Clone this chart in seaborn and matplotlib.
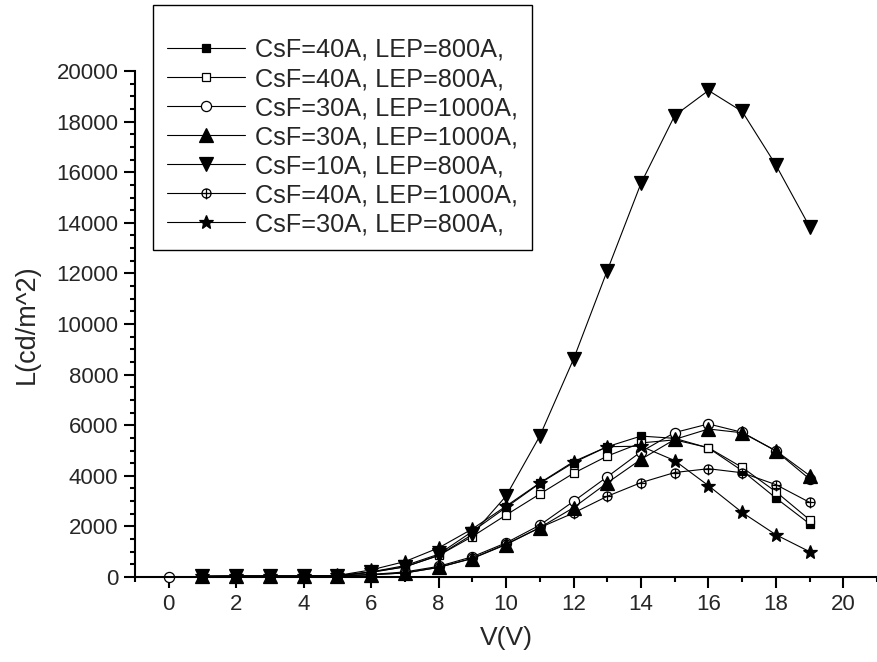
import numpy as np
import matplotlib
matplotlib.use('Agg')
from matplotlib import pyplot as plt
from matplotlib.path import Path
from matplotlib.ticker import MultipleLocator
import seaborn as sns

# data
v = list(range(1, 20))
v_circle = list(range(0, 20))

sq_filled = [20, 30, 30, 30, 50, 200, 450, 900, 1800, 2750, 3700, 4520, 5150, 5570, 5480, 5100, 4200, 3120, 2100]
sq_open = [20, 30, 30, 30, 50, 180, 400, 850, 1600, 2450, 3280, 4100, 4780, 5300, 5420, 5110, 4330, 3370, 2260]
circ_open = [0, 20, 30, 30, 30, 40, 100, 200, 420, 800, 1350, 2050, 2990, 3960, 4950, 5710, 6050, 5720, 4980, 3870]
tri_up = [20, 30, 30, 30, 40, 90, 160, 380, 730, 1280, 1950, 2740, 3720, 4650, 5440, 5850, 5700, 4990, 4010]
tri_down = [20, 30, 30, 30, 50, 200, 400, 850, 1680, 3200, 5570, 8610, 12110, 15560, 18240, 19230, 18400, 16280, 13840]
circ_cross = [20, 30, 30, 30, 40, 90, 160, 380, 740, 1300, 1950, 2530, 3190, 3730, 4130, 4280, 4120, 3650, 2950]
star = [40, 40, 40, 40, 60, 280, 610, 1150, 1900, 2800, 3720, 4560, 5150, 5170, 4600, 3610, 2550, 1670, 1000]

labels = ['CsF=40A, LEP=800A,', 'CsF=40A, LEP=800A,', 'CsF=30A, LEP=1000A,',
          'CsF=30A, LEP=1000A,', 'CsF=10A, LEP=800A,', 'CsF=40A, LEP=1000A,',
          'CsF=30A, LEP=800A,']

sns.set_style('ticks')
plt.rcParams['font.family'] = ['Liberation Sans', 'DejaVu Sans']

# circle with a cross through it
circle = Path.unit_circle()
cross = Path([(-1.0, 0), (1.0, 0), (0, -1.3), (0, 1.0)],
             [Path.MOVETO, Path.LINETO, Path.MOVETO, Path.LINETO])
oplus = Path.make_compound_path(circle, cross)

fig = plt.figure(figsize=(8.78, 6.62), dpi=100)
ax = fig.add_axes([135 / 878, 1 - 577 / 662, 1 - 135 / 878 - 0.001, (577 - 71) / 662])

series = [
    (v, sq_filled, 's', 'k', 6),
    (v, sq_open, 's', 'white', 6),
    (v_circle, circ_open, 'o', 'white', 7.3),
    (v, tri_up, '^', 'k', 9.5),
    (v, tri_down, 'v', 'k', 9.5),
    (v, circ_cross, oplus, 'none', 8.5),
    (v, star, '*', 'k', 10),
]

for (xs, ys, mk, fc, ms), lab in zip(series, labels):
    sns.lineplot(x=xs, y=ys, ax=ax, color='k', linewidth=0.8, marker=mk,
                 markersize=ms, markerfacecolor=fc, markeredgecolor='k',
                 markeredgewidth=0.9, label=lab, clip_on=False)

ax.set_xlim(-1, 21)
ax.set_ylim(0, 20000)
ax.xaxis.set_major_locator(MultipleLocator(2))
ax.xaxis.set_minor_locator(MultipleLocator(1))
ax.yaxis.set_major_locator(MultipleLocator(2000))
ax.yaxis.set_minor_locator(MultipleLocator(500))
ax.tick_params(which='major', length=8, width=1.5, labelsize=16, direction='out',
               color='k', pad=4)
ax.tick_params(which='minor', length=3.5, width=1.5, direction='out', color='k')
for side in ['left', 'bottom']:
    ax.spines[side].set_linewidth(1.5)
    ax.spines[side].set_color('k')
sns.despine(ax=ax)

ax.set_xlabel('V(V)', fontsize=19, labelpad=8)
ax.set_ylabel('L(cd/m^2)', fontsize=19.5, labelpad=12)

handles, labs = ax.get_legend_handles_labels()
ax.get_legend().remove()
leg = fig.legend(handles, labs, loc='upper left', bbox_to_anchor=(153 / 878, 1 - 5 / 662),
                 borderaxespad=0, fontsize=18.2, frameon=True, fancybox=False,
                 framealpha=1, edgecolor='k', handlelength=3.1, labelspacing=0.2,
                 borderpad=0.55, handletextpad=0.4, title=' ', title_fontsize=10)
leg.get_frame().set_linewidth(1.0)

fig.savefig('out.png', dpi=100)
